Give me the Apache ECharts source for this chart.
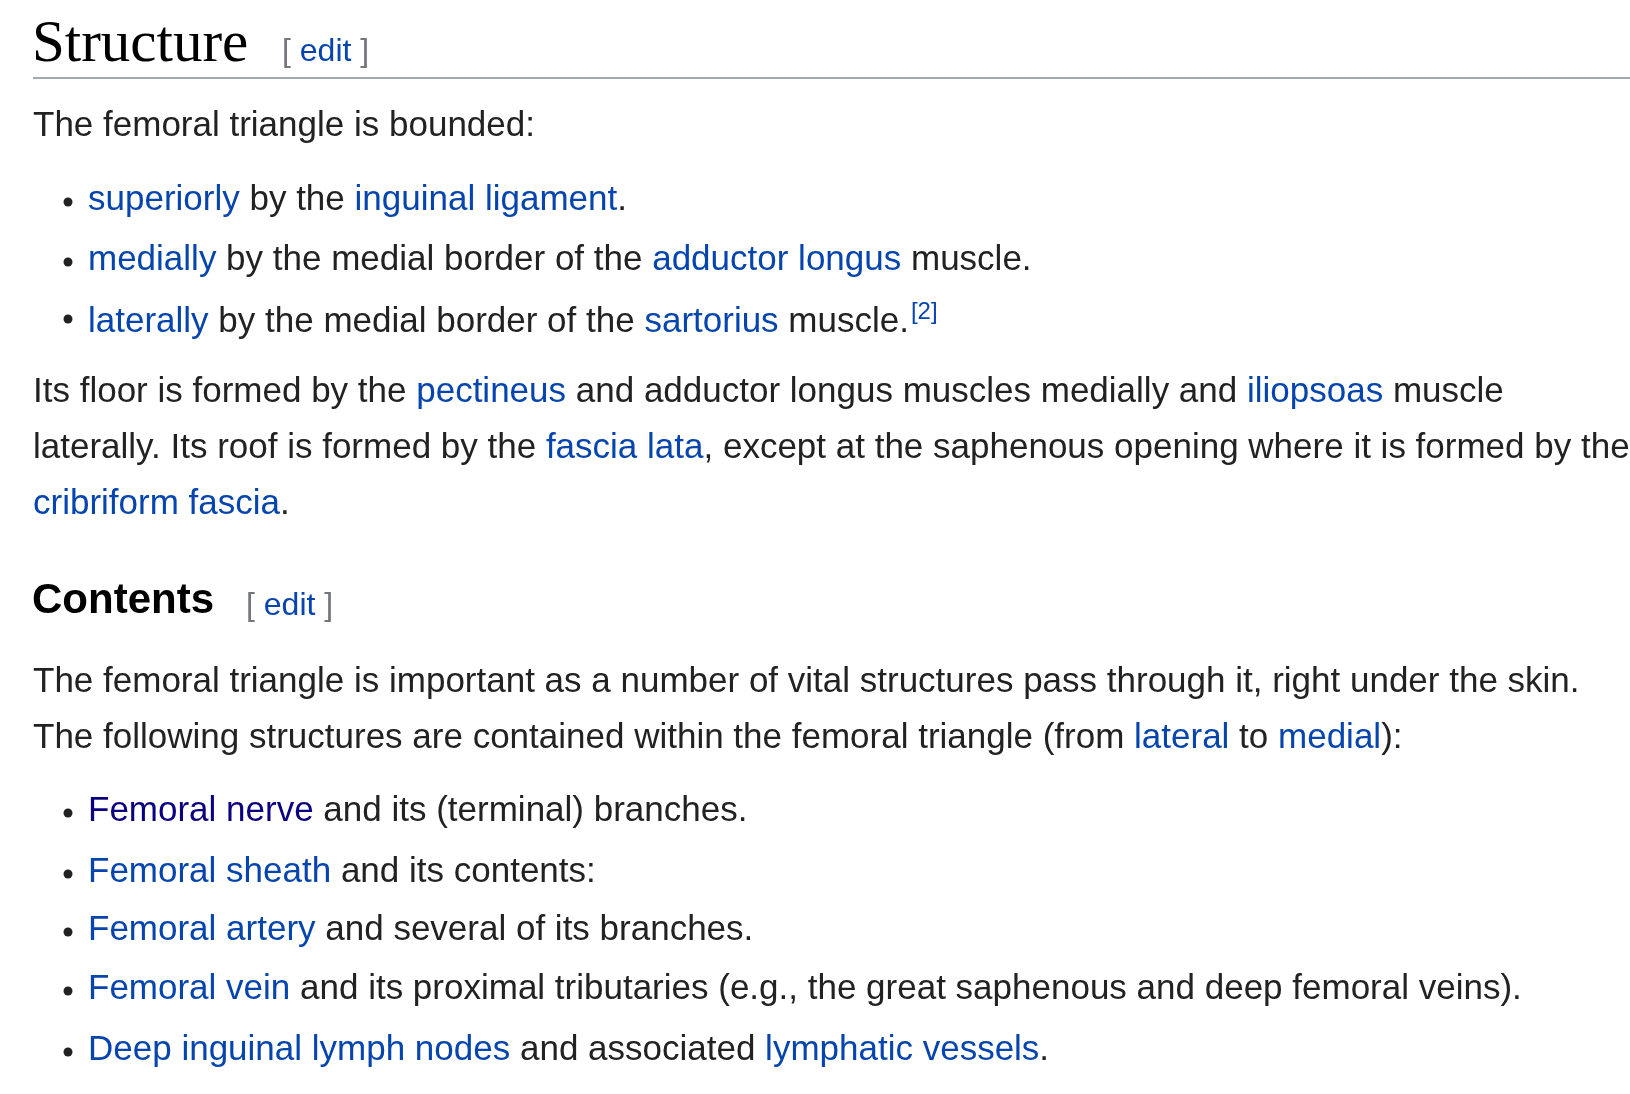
<!DOCTYPE html>
<html><head><meta charset="utf-8">
<script src="https://cdn.jsdelivr.net/npm/echarts@6/dist/echarts.min.js"></script>
<style>html,body{margin:0;padding:0;background:#fff}#c{width:1630px;height:1094px}</style>
</head><body><div id="c"></div>
<script>
// text lines: segments [text, style]  style: t=text, l=link, v=visited link, s=superscript link
const structureIntro = [["The femoral triangle is bounded:", "t"]];
const structureBullets = [
  [["superiorly", "l"], [" by the ", "t"], ["inguinal ligament", "l"], [".", "t"]],
  [["medially", "l"], [" by the medial border of the ", "t"], ["adductor longus", "l"], [" muscle.", "t"]],
  [["laterally", "l"], [" by the medial border of the ", "t"], ["sartorius", "l"], [" muscle.", "t"], ["[2]", "s"]]
];
const floorPara = [
  [["Its floor is formed by the ", "t"], ["pectineus", "l"], [" and adductor longus muscles medially and ", "t"], ["iliopsoas", "l"], [" muscle", "t"]],
  [["laterally. Its roof is formed by the ", "t"], ["fascia lata", "l"], [", except at the saphenous opening where it is formed by the", "t"]],
  [["cribriform fascia", "l"], [".", "t"]]
];
const contentsPara = [
  [["The femoral triangle is important as a number of vital structures pass through it, right under the skin.", "t"]],
  [["The following structures are contained within the femoral triangle (from ", "t"], ["lateral", "l"], [" to ", "t"], ["medial", "l"], ["):", "t"]]
];
const contentsBullets = [
  [["Femoral nerve", "v"], [" and its (terminal) branches.", "t"]],
  [["Femoral sheath", "l"], [" and its contents:", "t"]],
  [["Femoral artery", "l"], [" and several of its branches.", "t"]],
  [["Femoral vein", "l"], [" and its proximal tributaries (e.g., the great saphenous and deep femoral veins).", "t"]],
  [["Deep inguinal lymph nodes", "l"], [" and associated ", "t"], ["lymphatic vessels", "l"], [".", "t"]]
];
const headings = ["Structure", "Contents"];
const editLabel = "edit";

const FS = 35, FF = '"Liberation Sans", Arial, sans-serif';
const rich = {
  t: {fill: '#222222', fontSize: FS, fontFamily: FF},
  l: {fill: '#0645ad', fontSize: FS, fontFamily: FF},
  v: {fill: '#0b0080', fontSize: FS, fontFamily: FF},
  s: {fill: '#0645ad', fontSize: 24, fontFamily: FF, padding: [0, 0, 20, 2]}
};
function line(segs, x, y) {
  return {type: 'text', left: x, top: y - 17, style: {
    text: segs.map(s => '{' + s[1] + '|' + s[0].replace(/[{}|]/g, '') + '}').join(''),
    rich: rich, font: FS + 'px ' + FF, textVerticalAlign: 'top'}};
}
function bullet(y) { return {type: 'circle', shape: {cx: 68, cy: y + 2, r: 4.5}, style: {fill: '#222'}}; }
const editRich = {b: {fill: '#72777d', fontSize: 32, fontFamily: FF}, e: {fill: '#0645ad', fontSize: 32, fontFamily: FF}};
const g = [];
g.push({type: 'text', left: 32, top: 16, style: {text: headings[0], font: '59px "Liberation Serif", "DejaVu Serif", serif', fill: '#000'}});
g.push({type: 'text', left: 282, top: 36, style: {text: '{b|[ }{e|' + editLabel + '}{b| ]}', rich: editRich}});
g.push({type: 'rect', shape: {x: 33, y: 77, width: 1600, height: 2}, style: {fill: '#a2a9b1'}});
g.push(line(structureIntro, 33, 126));
[200, 260, 317].forEach((y, i) => { g.push(bullet(y)); g.push(line(structureBullets[i], 88, y)); });
[392, 448, 504].forEach((y, i) => g.push(line(floorPara[i], 33, y)));
g.push({type: 'text', left: 32, top: 580, style: {text: headings[1], font: 'bold 42px "Liberation Sans", Arial, sans-serif', fill: '#000'}});
g.push({type: 'text', left: 246, top: 590, style: {text: '{b|[ }{e|' + editLabel + '}{b| ]}', rich: editRich}});
[682, 738].forEach((y, i) => g.push(line(contentsPara[i], 33, y)));
[811, 872, 930, 989, 1050].forEach((y, i) => { g.push(bullet(y)); g.push(line(contentsBullets[i], 88, y)); });

const chart = echarts.init(document.getElementById('c'));
chart.setOption({backgroundColor: '#fff', graphic: {elements: g}});
</script></body></html>
